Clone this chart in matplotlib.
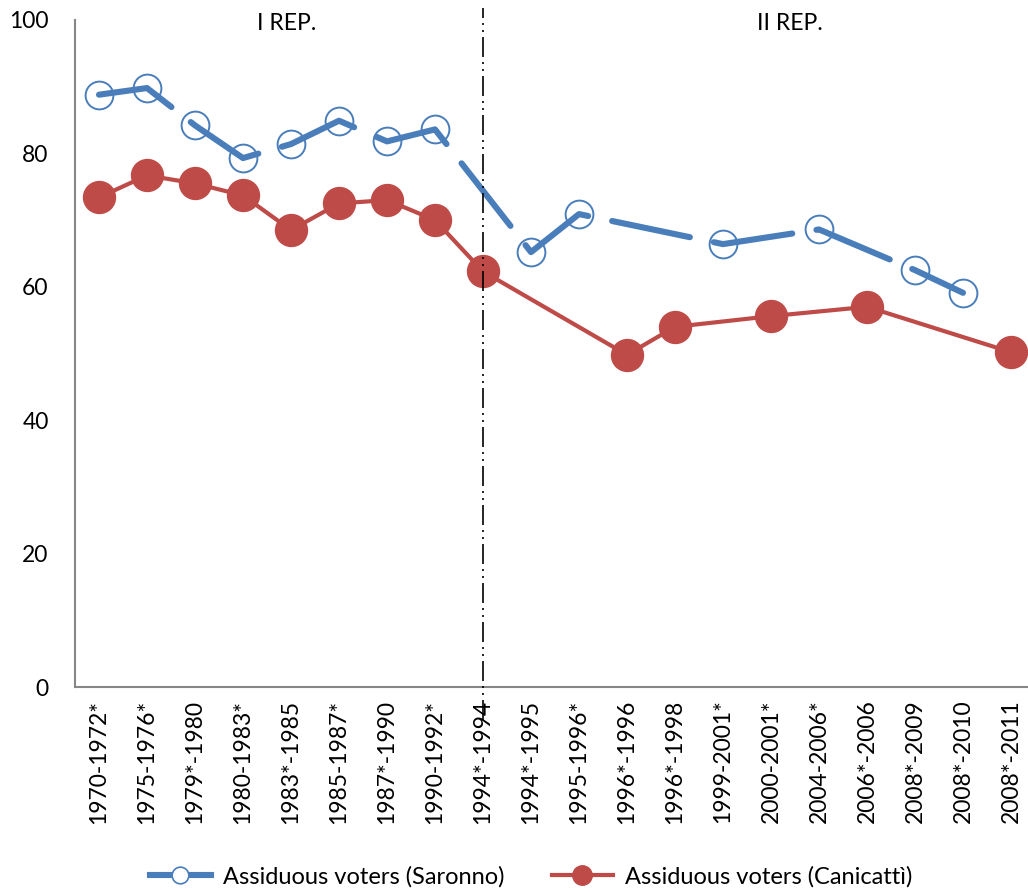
import numpy as np
import matplotlib.pyplot as plt
from matplotlib.lines import Line2D

plt.rcParams['font.family'] = ['Lato', 'DejaVu Sans']

# categories (election pairs)
periods = ['1970-1972*', '1975-1976*', '1979*-1980', '1980-1983*', '1983*-1985',
           '1985-1987*', '1987*-1990', '1990-1992*', '1994*-1994', '1994*-1995',
           '1995-1996*', '1996*-1996', '1996*-1998', '1999-2001*', '2000-2001*',
           '2004-2006*', '2006*-2006', '2008*-2009', '2008*-2010', '2008*-2011']

nan = np.nan
saronno = [88.8, 89.8, 84.2, 79.3, 81.4, 84.9, 81.8, 83.6, nan, 65.2,
           70.9, nan, nan, 66.4, nan, 68.6, nan, 62.5, 59.1, nan]
canicatti = [73.4, 76.7, 75.5, 73.7, 68.5, 72.5, 73.0, 70.0, 62.3, nan,
             nan, 49.8, 54.0, nan, 55.6, nan, 57.0, nan, nan, 50.2]

blue = '#4A7EBB'
red = '#BE4B48'

fig = plt.figure(figsize=(10.28, 8.92), dpi=100)
ax = fig.add_axes([75 / 1028, 1 - 687 / 892, 960 / 1028, 667 / 892])

x = np.arange(len(periods))
s = np.array(saronno)
c = np.array(canicatti)
ms = ~np.isnan(s)
mc = ~np.isnan(c)

# Saronno: long-dash line, hollow circles; gaps bridged
ax.plot(x[ms], s[ms], color=blue, lw=4.4, linestyle=(0, (13, 4)),
        solid_capstyle='round', dash_capstyle='round', zorder=3)
ax.plot(x[ms], s[ms], linestyle='none', marker='o', ms=20, mfc='none',
        mec=blue, mew=1.4, zorder=4)

# Canicatti: solid line, filled circles
ax.plot(x[mc], c[mc], color=red, lw=3, marker='o', ms=23, mfc=red, mec=red,
        zorder=5)

# boundary between the two republics
ax.plot([8, 8], [-0.05, 1.018], color='black', lw=1.2,
        linestyle=(0, (12, 3, 1.2, 3, 1.2, 3)),
        transform=ax.get_xaxis_transform(), clip_on=False, zorder=6)
ax.text(3.9, 99.5, 'I REP.', ha='center', va='center', fontsize=16.5)
ax.text(14.4, 99.5, 'II REP.', ha='center', va='center', fontsize=16.5)

ax.set_xlim(-0.5, len(periods) - 0.5)
ax.set_ylim(0, 100)
ax.set_yticks(range(0, 101, 20))
ax.set_xticks(x)
ax.set_xticklabels(periods, rotation=90, fontsize=16.5)
ax.tick_params(axis='y', length=0, pad=19, labelsize=16.5)
ax.tick_params(axis='x', length=0, pad=9)

for side in ['top', 'right']:
    ax.spines[side].set_visible(False)
for side in ['left', 'bottom']:
    ax.spines[side].set_color('#868686')
    ax.spines[side].set_linewidth(1.5)

handles = [
    Line2D([], [], color=blue, lw=4.4, marker='o', ms=12, mfc='white',
           mec=blue, mew=1.2),
    Line2D([], [], color=red, lw=3, marker='o', ms=14, mfc=red, mec=red),
]
fig.legend(handles, ['Assiduous voters (Saronno)', 'Assiduous voters (Canicattì)'],
           loc='center', bbox_to_anchor=(531 / 1028, 1 - 877 / 892), ncol=2,
           frameon=False, fontsize=17, handlelength=2.6, handletextpad=0.5,
           columnspacing=2.0)

fig.savefig('out.png', dpi=100)
